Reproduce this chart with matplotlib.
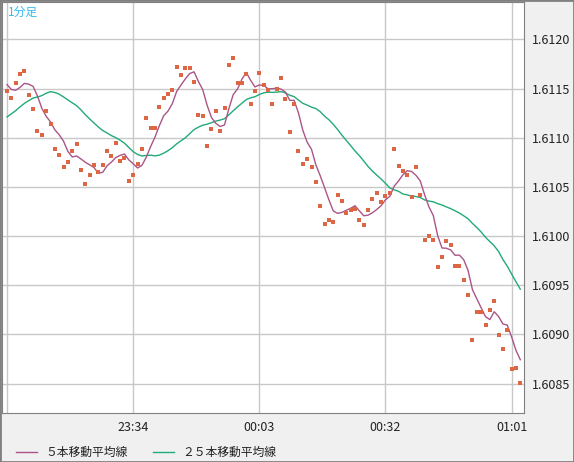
import numpy as np
import matplotlib.pyplot as plt

plt.rcParams['font.family'] = ['Noto Sans CJK JP', 'DejaVu Sans']

# closes before the visible range (only used to build the moving averages)
prefix = [1.61062, 1.61075, 1.61068, 1.61080, 1.61072, 1.61065, 1.61078, 1.61070,
          1.61066, 1.61074, 1.61110, 1.61125, 1.61140, 1.61150, 1.61160, 1.61168,
          1.61172, 1.61175, 1.61170, 1.61178, 1.61165, 1.61160, 1.61150, 1.61148]

# 1-minute closes from 23:05
closes = [1.61147, 1.61140, 1.61156, 1.61165, 1.61168, 1.61143, 1.61129, 1.61107, 1.61103, 1.61127,
          1.61114, 1.61089, 1.61082, 1.61070, 1.61075, 1.61086, 1.61094, 1.61067, 1.61053, 1.61062,
          1.61072, 1.61065, 1.61072, 1.61086, 1.61081, 1.61095, 1.61076, 1.61079, 1.61056, 1.61062,
          1.61073, 1.61089, 1.61120, 1.61110, 1.61110, 1.61131, 1.61140, 1.61144, 1.61148, 1.61172,
          1.61164, 1.61171, 1.61171, 1.61157, 1.61123, 1.61122, 1.61092, 1.61109, 1.61127, 1.61107,
          1.61130, 1.61174, 1.61181, 1.61156, 1.61156, 1.61165, 1.61134, 1.61147, 1.61166, 1.61154,
          1.61148, 1.61134, 1.61150, 1.61161, 1.61139, 1.61106, 1.61134, 1.61086, 1.61073, 1.61078,
          1.61070, 1.61055, 1.61031, 1.61012, 1.61016, 1.61014, 1.61042, 1.61036, 1.61023, 1.61026,
          1.61027, 1.61016, 1.61011, 1.61026, 1.61038, 1.61044, 1.61035, 1.61041, 1.61044, 1.61089,
          1.61071, 1.61066, 1.61062, 1.61040, 1.61070, 1.61042, 1.60996, 1.61000, 1.60996, 1.60968,
          1.60979, 1.60995, 1.60991, 1.60969, 1.60969, 1.60955, 1.60940, 1.60894, 1.60923, 1.60923,
          1.60910, 1.60925, 1.60934, 1.60899, 1.60885, 1.60904, 1.60865, 1.60866, 1.60851]

tick_pos = [0, 29, 58, 87, 116]
tick_lab = ['', '23:34', '00:03', '00:32', '01:01']
yticks = [1.6085, 1.6090, 1.6095, 1.6100, 1.6105, 1.6110, 1.6115, 1.6120]

allc = np.array(prefix + closes)
n0 = len(prefix)
ma5 = np.convolve(allc, np.ones(5) / 5, mode='valid')[n0 - 4:]
ma25 = np.convolve(allc, np.ones(25) / 25, mode='valid')[n0 - 24:]
x = np.arange(len(closes))

fig = plt.figure(figsize=(5.74, 4.62), dpi=100, facecolor='#f0f0f0')
ax = fig.add_axes([2 / 574, 1 - 413 / 462, 522 / 574, 411 / 462])
ax.set_facecolor('white')

ax.plot(x, ma25, color='#22aa77', lw=1)
ax.plot(x, ma5, color='#aa5588', lw=1)
ax.plot(x, closes, 's', color='#dd6644', ms=2.8, mew=0)

ax.set_xlim(-1.15, 118.85)
ax.set_ylim(1.60820, 1.61238)
ax.set_xticks(tick_pos)
ax.set_xticklabels(tick_lab)
ax.set_yticks(yticks)
ax.set_yticklabels(['%.4f' % v for v in yticks])
ax.yaxis.tick_right()
ax.tick_params(length=0, labelsize=9, colors='#222222', pad=6)
ax.grid(True, color='#c8c8c8', lw=1)
ax.set_axisbelow(True)
for s in ax.spines.values():
    s.set_color('#808080')

fig.text(8 / 574, 1 - 12 / 462, '1分足', color='#33bbee', fontsize=8.5, va='center')

# legend
fig.add_artist(plt.Line2D([16 / 574, 37 / 574], [1 - 452 / 462] * 2, color='#aa5588', lw=1))
fig.text(45 / 574, 1 - 452 / 462, '５本移動平均線', fontsize=8.5, va='center', color='#222222')
fig.add_artist(plt.Line2D([153 / 574, 174 / 574], [1 - 452 / 462] * 2, color='#22aa77', lw=1))
fig.text(182 / 574, 1 - 452 / 462, '２５本移動平均線', fontsize=8.5, va='center', color='#222222')

fig.add_artist(plt.Rectangle((0, 0), 1, 1, transform=fig.transFigure, fill=False,
                             edgecolor='#808080', lw=2))

fig.savefig('out.png', dpi=100, facecolor=fig.get_facecolor())
